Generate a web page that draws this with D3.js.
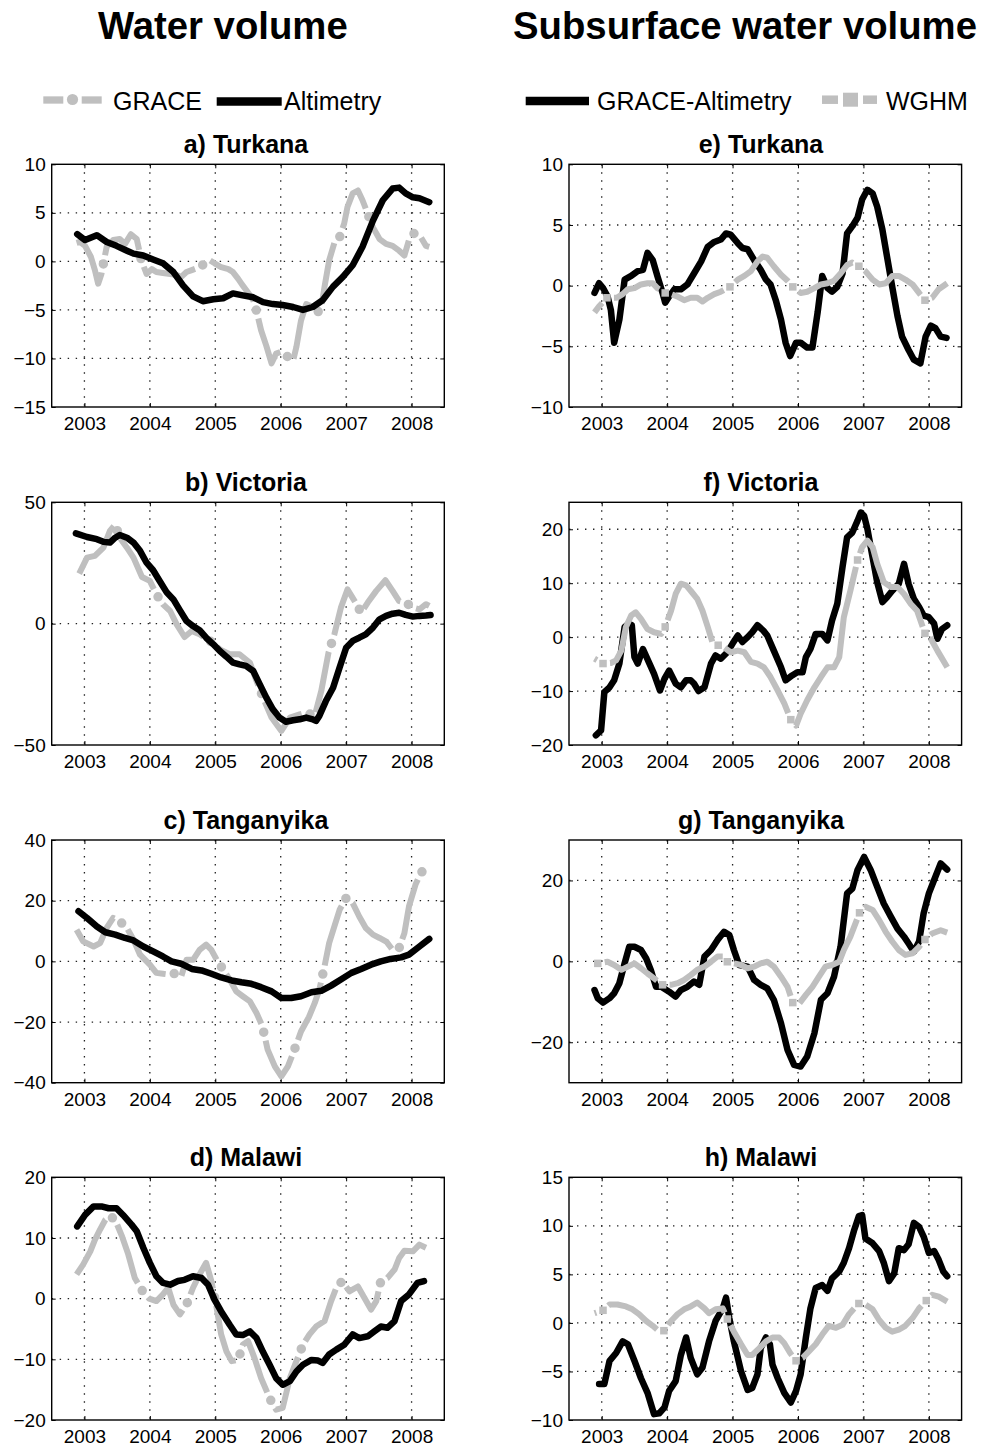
<!DOCTYPE html>
<html>
<head>
<meta charset="utf-8">
<script src="https://cdn.jsdelivr.net/npm/d3@7"></script>
<style>
  body { margin: 0; background: #fff; }
  svg text { font-family: "Liberation Sans", Arial, Helvetica, sans-serif; fill: #000; }
</style>
</head>
<body>
<svg id="fig" width="988" height="1451"></svg>
<script>
// ---------- data: [decimal year, km^3] ----------
const years = [2003, 2004, 2005, 2006, 2007, 2008];

// a) Turkana — total water volume
const turkanaGrace = [[2002.88,1.9],[2002.93,2.0],[2003.01,1.6],[2003.10,0.45],[2003.16,-0.9],[2003.21,-2.3],[2003.26,-1.3],[2003.34,1.5],[2003.44,2.2],[2003.54,2.3],[2003.62,1.8],[2003.71,2.8],[2003.80,2.3],[2003.87,0.1],[2003.95,-1.3],[2004.03,-0.8],[2004.10,-1.1],[2004.20,-1.2],[2004.31,-1.3],[2004.41,-1.4],[2004.48,-1.6],[2004.56,-1.1],[2004.64,-0.9],[2004.76,-0.6],[2004.84,-0.2],[2004.92,0.1],[2004.99,-0.2],[2005.09,-0.6],[2005.20,-0.8],[2005.27,-1.1],[2005.35,-1.8],[2005.41,-2.4],[2005.50,-3.2],[2005.58,-4.0],[2005.63,-5.1],[2005.70,-7.1],[2005.78,-8.7],[2005.86,-10.5],[2005.93,-9.5],[2006.01,-9.3],[2006.08,-9.7],[2006.19,-10.2],[2006.24,-8.8],[2006.31,-6.1],[2006.39,-4.4],[2006.49,-4.7],[2006.57,-5.2],[2006.62,-4.7],[2006.67,-2.6],[2006.74,0.1],[2006.82,1.9],[2006.90,2.5],[2006.97,3.9],[2007.02,5.6],[2007.10,7.0],[2007.18,7.3],[2007.25,6.3],[2007.33,4.9],[2007.41,3.5],[2007.51,2.3],[2007.61,1.8],[2007.71,1.6],[2007.81,1.1],[2007.89,0.6],[2007.96,2.2],[2008.04,2.9],[2008.14,2.5],[2008.22,1.6],[2008.27,1.5]];
const turkanaAlt = [[2002.89,2.8],[2003.01,2.2],[2003.19,2.7],[2003.34,2.0],[2003.49,1.6],[2003.65,1.1],[2003.75,0.8],[2003.90,0.6],[2004.05,0.2],[2004.20,-0.2],[2004.36,-1.1],[2004.51,-2.5],[2004.66,-3.6],[2004.81,-4.1],[2004.97,-3.9],[2005.12,-3.8],[2005.27,-3.3],[2005.42,-3.5],[2005.58,-3.7],[2005.73,-4.2],[2005.88,-4.4],[2006.03,-4.5],[2006.19,-4.7],[2006.34,-5.0],[2006.49,-4.7],[2006.64,-4.0],[2006.80,-2.6],[2006.95,-1.6],[2007.10,-0.4],[2007.25,1.5],[2007.41,4.2],[2007.56,6.3],[2007.71,7.5],[2007.81,7.6],[2007.91,7.0],[2008.02,6.6],[2008.12,6.5],[2008.27,6.1]];

// b) Victoria
const victoriaGrace = [[2002.92,20.6],[2003.04,27.2],[2003.16,27.9],[2003.29,31.3],[2003.39,38.2],[2003.47,40.9],[2003.54,35.4],[2003.65,31.3],[2003.75,27.2],[2003.88,19.2],[2004.00,17.6],[2004.10,12.1],[2004.20,8.0],[2004.31,5.2],[2004.41,-0.3],[2004.53,-5.5],[2004.64,-3.0],[2004.76,-4.4],[2004.92,-7.1],[2005.07,-10.6],[2005.22,-12.6],[2005.37,-12.6],[2005.53,-16.1],[2005.63,-23.6],[2005.73,-30.5],[2005.86,-38.7],[2006.01,-44.2],[2006.14,-38.7],[2006.29,-37.4],[2006.39,-36.7],[2006.52,-38.0],[2006.62,-27.7],[2006.73,-12.0],[2006.82,-4.4],[2006.92,6.6],[2007.02,14.1],[2007.13,9.3],[2007.23,4.5],[2007.33,8.7],[2007.46,13.5],[2007.60,17.9],[2007.71,13.5],[2007.81,9.3],[2007.91,8.7],[2008.02,6.6],[2008.12,5.9],[2008.22,8.0],[2008.27,7.3]];
const victoriaAlt = [[2002.87,37.2],[2003.04,35.7],[2003.19,34.8],[2003.29,33.7],[2003.39,33.4],[2003.47,35.4],[2003.54,36.5],[2003.65,35.4],[2003.75,33.4],[2003.85,30.0],[2003.95,25.1],[2004.05,22.0],[2004.15,17.6],[2004.26,12.8],[2004.36,10.0],[2004.46,5.5],[2004.56,1.1],[2004.66,-1.0],[2004.76,-2.7],[2004.86,-5.8],[2004.97,-8.5],[2005.07,-11.3],[2005.17,-13.6],[2005.27,-16.1],[2005.37,-16.8],[2005.47,-17.4],[2005.58,-19.5],[2005.68,-25.0],[2005.78,-30.5],[2005.88,-35.3],[2005.98,-38.7],[2006.08,-40.4],[2006.19,-39.8],[2006.29,-39.4],[2006.39,-38.7],[2006.49,-39.4],[2006.54,-40.1],[2006.59,-38.0],[2006.69,-31.9],[2006.80,-26.4],[2006.90,-18.1],[2007.00,-9.9],[2007.10,-7.1],[2007.20,-5.8],[2007.30,-4.4],[2007.41,-1.6],[2007.51,1.8],[2007.61,3.2],[2007.71,4.1],[2007.81,4.5],[2007.91,3.6],[2008.02,2.9],[2008.12,3.2],[2008.22,3.4],[2008.29,3.6]];

// c) Tanganyika
const tanganyikaGrace = [[2002.88,10.4],[2002.98,6.6],[2003.14,4.9],[2003.24,6.0],[2003.34,11.0],[2003.44,14.3],[2003.54,13.2],[2003.65,11.0],[2003.75,7.1],[2003.85,2.2],[2004.00,-1.1],[2004.10,-3.8],[2004.20,-4.1],[2004.31,-4.4],[2004.41,-3.8],[2004.48,-4.9],[2004.56,0.5],[2004.66,0.5],[2004.76,3.8],[2004.86,5.5],[2004.94,3.8],[2005.03,0.2],[2005.12,-2.7],[2005.22,-6.0],[2005.32,-9.9],[2005.42,-11.5],[2005.53,-13.2],[2005.63,-17.0],[2005.72,-21.4],[2005.80,-29.1],[2005.91,-34.6],[2006.01,-37.9],[2006.11,-34.6],[2006.21,-29.1],[2006.31,-23.1],[2006.43,-18.4],[2006.52,-13.7],[2006.59,-9.3],[2006.67,-1.6],[2006.74,6.0],[2006.82,11.5],[2006.90,17.0],[2007.00,20.9],[2007.10,19.2],[2007.20,14.8],[2007.30,11.0],[2007.41,8.8],[2007.51,7.7],[2007.62,6.4],[2007.71,3.8],[2007.81,4.4],[2007.89,9.3],[2007.96,18.1],[2008.06,25.3],[2008.14,29.1],[2008.24,31.3]];
const tanganyikaAlt = [[2002.91,16.5],[2003.04,14.3],[2003.19,11.5],[2003.32,9.6],[2003.47,8.8],[2003.62,7.7],[2003.75,6.9],[2003.90,4.9],[2004.05,3.3],[2004.20,1.6],[2004.33,0.0],[2004.48,-0.8],[2004.64,-2.5],[2004.79,-3.0],[2004.94,-4.1],[2005.09,-5.3],[2005.25,-6.3],[2005.40,-6.9],[2005.55,-7.4],[2005.70,-8.5],[2005.86,-9.9],[2006.01,-12.1],[2006.16,-12.1],[2006.31,-11.5],[2006.47,-10.2],[2006.62,-9.7],[2006.77,-8.0],[2006.92,-6.0],[2007.08,-3.8],[2007.23,-2.5],[2007.38,-1.1],[2007.53,0.0],[2007.68,0.8],[2007.84,1.3],[2007.96,2.2],[2008.12,4.9],[2008.27,7.4]];

// d) Malawi
const malawiGrace = [[2002.88,4.0],[2002.98,5.6],[2003.09,7.8],[2003.16,9.7],[2003.24,11.4],[2003.32,13.0],[2003.39,13.6],[2003.47,13.0],[2003.57,10.4],[2003.67,7.3],[2003.77,3.4],[2003.89,1.2],[2003.99,0.0],[2004.10,-0.4],[2004.20,0.7],[2004.28,1.8],[2004.36,-1.0],[2004.46,-2.6],[2004.56,-1.0],[2004.66,1.8],[2004.76,4.0],[2004.86,5.9],[2004.94,2.9],[2005.02,-1.5],[2005.09,-5.9],[2005.17,-8.7],[2005.25,-10.3],[2005.35,-10.1],[2005.42,-7.6],[2005.50,-7.0],[2005.60,-9.8],[2005.70,-13.1],[2005.84,-16.6],[2005.93,-18.3],[2006.03,-18.0],[2006.14,-13.1],[2006.24,-10.3],[2006.34,-7.6],[2006.44,-5.9],[2006.54,-4.6],[2006.67,-3.7],[2006.77,-0.4],[2006.85,1.8],[2006.94,2.9],[2007.05,1.2],[2007.18,2.0],[2007.28,0.1],[2007.38,-1.8],[2007.46,-0.4],[2007.53,2.9],[2007.63,3.4],[2007.74,4.8],[2007.81,6.7],[2007.89,7.9],[2008.02,7.8],[2008.12,8.9],[2008.22,8.4]];
const malawiAlt = [[2002.89,11.9],[2003.01,13.8],[2003.14,15.2],[2003.26,15.2],[2003.37,14.9],[2003.49,14.9],[2003.59,13.8],[2003.72,12.2],[2003.80,11.1],[2003.90,8.4],[2004.00,5.9],[2004.10,3.7],[2004.20,2.6],[2004.31,2.3],[2004.43,2.9],[2004.53,3.1],[2004.66,3.7],[2004.79,3.4],[2004.89,2.3],[2004.99,-0.2],[2005.09,-2.1],[2005.22,-4.3],[2005.32,-5.9],[2005.42,-6.0],[2005.53,-5.4],[2005.63,-6.5],[2005.73,-8.8],[2005.83,-10.9],[2005.93,-13.1],[2006.03,-14.2],[2006.14,-13.6],[2006.24,-12.0],[2006.34,-10.9],[2006.47,-10.1],[2006.57,-10.2],[2006.64,-10.6],[2006.74,-9.2],[2006.85,-8.4],[2006.97,-7.6],[2007.10,-5.9],[2007.20,-6.5],[2007.33,-6.2],[2007.43,-5.4],[2007.53,-4.6],[2007.63,-4.8],[2007.74,-3.7],[2007.84,-0.4],[2007.96,0.7],[2008.09,2.6],[2008.19,2.9]];

// e) Turkana — subsurface water volume
const turkanaSub = [[2002.89,-0.6],[2002.96,0.2],[2003.02,-0.2],[2003.09,-0.9],[2003.14,-2.0],[2003.19,-4.7],[2003.27,-2.8],[2003.35,0.5],[2003.45,0.8],[2003.55,1.2],[2003.63,1.3],[2003.70,2.7],[2003.78,2.1],[2003.85,0.8],[2003.93,-0.6],[2003.97,-1.4],[2004.03,-0.9],[2004.11,-0.3],[2004.21,-0.3],[2004.31,0.1],[2004.41,1.0],[2004.52,2.0],[2004.62,3.2],[2004.72,3.6],[2004.82,3.8],[2004.90,4.3],[2004.97,4.2],[2005.08,3.5],[2005.15,3.1],[2005.23,3.0],[2005.33,2.1],[2005.43,1.3],[2005.51,0.5],[2005.58,0.1],[2005.66,-1.2],[2005.74,-2.8],[2005.81,-4.7],[2005.88,-5.8],[2005.97,-4.7],[2006.04,-4.7],[2006.14,-5.1],[2006.22,-5.1],[2006.30,-2.2],[2006.37,0.8],[2006.45,-0.2],[2006.52,-0.5],[2006.60,-0.1],[2006.68,1.0],[2006.75,4.3],[2006.83,4.9],[2006.91,5.6],[2006.98,7.1],[2007.06,7.9],[2007.14,7.6],[2007.21,6.5],[2007.29,4.6],[2007.36,2.4],[2007.44,-0.1],[2007.52,-2.5],[2007.59,-4.2],[2007.69,-5.3],[2007.77,-6.1],[2007.87,-6.4],[2007.95,-4.2],[2008.03,-3.3],[2008.10,-3.5],[2008.18,-4.2],[2008.27,-4.3]];
const turkanaWghm = [[2002.89,-2.2],[2002.96,-1.7],[2003.08,-1.0],[2003.23,-1.0],[2003.32,-0.7],[2003.40,-0.3],[2003.50,-0.2],[2003.60,0.1],[2003.70,0.2],[2003.78,0.2],[2003.85,-0.2],[2003.97,-0.6],[2004.06,-0.7],[2004.16,-0.9],[2004.26,-1.2],[2004.36,-1.0],[2004.46,-1.0],[2004.54,-1.3],[2004.62,-1.0],[2004.72,-0.7],[2004.82,-0.5],[2004.96,-0.1],[2005.08,0.5],[2005.18,0.8],[2005.28,1.2],[2005.38,2.0],[2005.46,2.4],[2005.53,2.3],[2005.63,1.6],[2005.74,0.9],[2005.84,0.4],[2005.92,-0.1],[2006.04,-0.6],[2006.14,-0.5],[2006.25,-0.2],[2006.35,0.1],[2006.45,0.2],[2006.55,0.4],[2006.65,1.0],[2006.75,1.7],[2006.83,1.9],[2006.93,1.6],[2007.03,1.2],[2007.14,0.5],[2007.24,0.1],[2007.34,0.2],[2007.44,0.8],[2007.54,0.8],[2007.64,0.5],[2007.75,0.1],[2007.85,-0.6],[2007.94,-1.2],[2008.05,-1.0],[2008.15,-0.3],[2008.28,0.2]];
const turkanaWghmMarks = [2003.08, 2003.97, 2004.96, 2005.92, 2006.93, 2007.94];

// f) Victoria
const victoriaSub = [[2002.91,-18.2],[2002.99,-17.3],[2003.04,-10.2],[2003.12,-9.3],[2003.19,-8.0],[2003.27,-4.9],[2003.35,1.9],[2003.41,2.5],[2003.46,2.2],[2003.50,-3.7],[2003.55,-4.9],[2003.63,-2.2],[2003.73,-4.9],[2003.80,-6.8],[2003.89,-9.9],[2003.96,-7.7],[2004.03,-6.2],[2004.13,-8.6],[2004.21,-9.3],[2004.29,-8.0],[2004.36,-8.0],[2004.41,-8.6],[2004.48,-10.0],[2004.57,-9.3],[2004.67,-4.9],[2004.74,-3.4],[2004.82,-4.0],[2004.92,-2.8],[2005.00,-1.2],[2005.08,0.3],[2005.15,-0.9],[2005.23,0.0],[2005.30,0.9],[2005.38,2.2],[2005.47,1.2],[2005.53,0.3],[2005.63,-2.5],[2005.74,-5.6],[2005.81,-8.0],[2005.91,-7.1],[2005.99,-6.5],[2006.07,-6.5],[2006.12,-3.7],[2006.19,-2.2],[2006.27,0.6],[2006.37,0.6],[2006.45,-0.6],[2006.52,3.1],[2006.60,6.2],[2006.68,13.0],[2006.75,18.5],[2006.83,19.4],[2006.91,21.6],[2006.96,23.1],[2007.01,22.5],[2007.06,20.1],[2007.14,14.8],[2007.21,10.2],[2007.29,6.5],[2007.36,7.4],[2007.44,8.6],[2007.54,9.9],[2007.62,13.6],[2007.69,9.9],[2007.77,7.1],[2007.85,5.6],[2007.92,4.0],[2008.00,3.7],[2008.08,2.5],[2008.13,-0.3],[2008.20,1.5],[2008.28,2.2]];
const victoriaWghm = [[2002.89,-4.0],[2003.02,-4.9],[2003.14,-4.8],[2003.22,-4.3],[2003.30,-2.5],[2003.37,1.9],[2003.45,4.0],[2003.52,4.6],[2003.60,3.4],[2003.70,1.5],[2003.80,0.9],[2003.91,0.6],[2003.97,1.9],[2004.06,4.9],[2004.13,8.0],[2004.21,9.9],[2004.29,9.6],[2004.36,8.6],[2004.46,7.1],[2004.54,4.9],[2004.62,1.9],[2004.69,-0.9],[2004.78,-1.5],[2004.87,-1.9],[2004.97,-2.8],[2005.08,-2.5],[2005.18,-2.8],[2005.28,-4.6],[2005.38,-4.9],[2005.48,-5.6],[2005.58,-7.4],[2005.69,-9.9],[2005.79,-12.3],[2005.89,-15.3],[2005.97,-16.4],[2006.04,-14.2],[2006.14,-11.7],[2006.25,-9.3],[2006.35,-7.4],[2006.45,-5.6],[2006.55,-5.6],[2006.63,-3.7],[2006.70,3.7],[2006.80,8.6],[2006.91,14.3],[2006.98,16.7],[2007.06,17.9],[2007.14,16.7],[2007.21,13.6],[2007.31,10.2],[2007.42,9.3],[2007.52,9.3],[2007.62,8.0],[2007.72,6.2],[2007.82,4.9],[2007.94,0.7],[2008.03,-0.3],[2008.13,-2.5],[2008.28,-5.6]];
const victoriaWghmMarks = [2003.02, 2003.97, 2004.78, 2005.89, 2006.91, 2007.94];

// g) Tanganyika
const tanganyikaSub = [[2002.89,-7.1],[2002.94,-9.1],[2003.02,-10.2],[2003.12,-9.1],[2003.19,-7.9],[2003.27,-5.4],[2003.35,-0.5],[2003.42,3.6],[2003.50,3.6],[2003.60,2.8],[2003.68,0.7],[2003.75,-2.1],[2003.83,-6.3],[2003.91,-6.3],[2004.03,-7.5],[2004.13,-8.7],[2004.21,-7.1],[2004.31,-6.3],[2004.41,-5.0],[2004.49,-5.8],[2004.57,1.2],[2004.67,2.8],[2004.77,5.3],[2004.87,7.3],[2004.95,6.5],[2005.02,2.8],[2005.10,-0.9],[2005.23,-1.3],[2005.33,-4.6],[2005.43,-5.8],[2005.53,-6.7],[2005.63,-9.5],[2005.74,-15.3],[2005.84,-21.9],[2005.94,-25.6],[2006.04,-26.0],[2006.14,-23.5],[2006.25,-17.8],[2006.35,-9.5],[2006.45,-7.9],[2006.55,-3.8],[2006.65,3.6],[2006.75,16.8],[2006.83,18.0],[2006.91,22.6],[2007.01,25.8],[2007.11,22.6],[2007.21,18.4],[2007.31,14.3],[2007.42,11.0],[2007.52,8.1],[2007.62,6.1],[2007.69,4.4],[2007.77,2.4],[2007.85,4.9],[2007.92,11.9],[2008.00,16.8],[2008.08,20.1],[2008.18,24.2],[2008.28,22.7]];
const tanganyikaWghm = [[2002.94,-0.5],[2003.09,-0.1],[2003.19,-0.9],[2003.30,-2.1],[2003.40,-1.3],[2003.50,-0.5],[2003.60,-1.7],[2003.70,-3.0],[2003.80,-4.2],[2003.93,-5.8],[2004.06,-5.8],[2004.16,-5.4],[2004.26,-4.6],[2004.36,-3.4],[2004.46,-2.1],[2004.57,-1.3],[2004.67,-0.1],[2004.77,1.2],[2004.85,1.2],[2004.92,-0.1],[2005.02,-0.5],[2005.13,-0.9],[2005.23,-1.7],[2005.33,-1.3],[2005.43,-0.5],[2005.53,-0.1],[2005.63,-1.3],[2005.74,-3.8],[2005.84,-6.3],[2005.92,-10.2],[2006.02,-10.4],[2006.12,-8.3],[2006.22,-6.3],[2006.32,-3.8],[2006.42,-1.3],[2006.52,-0.9],[2006.63,-0.1],[2006.70,2.8],[2006.80,6.1],[2006.94,12.0],[2007.03,13.5],[2007.14,12.7],[2007.24,10.2],[2007.34,7.3],[2007.44,4.9],[2007.54,2.8],[2007.64,1.6],[2007.75,2.0],[2007.85,3.6],[2007.94,5.4],[2008.05,6.9],[2008.18,7.7],[2008.28,7.1]];
const tanganyikaWghmMarks = [2002.94, 2003.93, 2004.92, 2005.92, 2006.94, 2007.94];

// h) Malawi
const malawiSub = [[2002.96,-6.3],[2003.04,-6.3],[2003.12,-3.9],[2003.22,-3.1],[2003.32,-1.9],[2003.40,-2.2],[2003.50,-3.9],[2003.60,-5.7],[2003.70,-7.2],[2003.80,-9.4],[2003.88,-9.3],[2003.96,-8.7],[2004.03,-7.0],[2004.13,-6.0],[2004.21,-3.3],[2004.29,-1.5],[2004.36,-3.6],[2004.46,-5.3],[2004.54,-4.6],[2004.64,-1.9],[2004.74,0.2],[2004.85,1.5],[2004.90,2.6],[2004.95,0.5],[2005.02,-1.9],[2005.13,-5.0],[2005.23,-6.9],[2005.30,-6.7],[2005.38,-5.3],[2005.43,-2.6],[2005.51,-1.5],[2005.57,-2.2],[2005.61,-4.3],[2005.69,-5.7],[2005.79,-7.2],[2005.89,-8.2],[2005.97,-7.0],[2006.04,-5.3],[2006.12,-1.5],[2006.19,1.5],[2006.27,3.6],[2006.37,3.9],[2006.45,3.3],[2006.52,4.6],[2006.63,5.3],[2006.70,6.2],[2006.78,7.7],[2006.86,9.6],[2006.93,11.0],[2006.98,11.1],[2007.03,8.7],[2007.14,8.2],[2007.24,7.4],[2007.31,6.2],[2007.39,4.3],[2007.47,5.1],[2007.54,7.7],[2007.62,7.5],[2007.69,8.1],[2007.77,10.3],[2007.85,9.9],[2007.92,8.9],[2008.00,7.2],[2008.08,7.4],[2008.15,6.5],[2008.22,5.3],[2008.28,4.8]];
const malawiWghm = [[2002.89,1.0],[2003.02,1.3],[2003.12,1.9],[2003.24,1.9],[2003.37,1.7],[2003.47,1.4],[2003.57,0.9],[2003.68,0.2],[2003.78,-0.3],[2003.85,-0.7],[2003.95,-0.8],[2004.06,0.2],[2004.16,0.9],[2004.26,1.4],[2004.36,1.7],[2004.46,2.1],[2004.57,1.5],[2004.64,1.0],[2004.74,1.4],[2004.85,1.5],[2004.92,0.4],[2005.02,-0.9],[2005.13,-2.2],[2005.23,-3.3],[2005.30,-3.3],[2005.41,-2.6],[2005.51,-1.9],[2005.61,-1.5],[2005.71,-1.5],[2005.79,-2.1],[2005.88,-3.1],[2005.97,-3.9],[2006.07,-3.6],[2006.17,-2.9],[2006.27,-2.2],[2006.37,-1.2],[2006.47,-0.3],[2006.58,-0.5],[2006.68,-0.2],[2006.78,0.9],[2006.86,1.5],[2006.93,2.0],[2007.03,1.9],[2007.14,1.4],[2007.24,0.3],[2007.34,-0.5],[2007.44,-0.9],[2007.54,-0.7],[2007.64,-0.3],[2007.75,0.5],[2007.85,1.5],[2007.96,2.3],[2008.05,2.9],[2008.15,2.7],[2008.28,2.2]];
const malawiWghmMarks = [2003.02, 2003.95, 2004.92, 2005.97, 2006.93, 2007.96];

// y ticks per panel
const ticksA = [-15, -10, -5, 0, 5, 10];
const ticksB = [-50, 0, 50];
const ticksC = [-40, -20, 0, 20, 40];
const ticksD = [-20, -10, 0, 10, 20];
const ticksE = [-10, -5, 0, 5, 10];
const ticksF = [-20, -10, 0, 10, 20];
const ticksG = [-20, 0, 20];
const ticksH = [-10, -5, 0, 5, 10, 15];

const columnTitles = ["Water volume", "Subsurface water volume"];
const panelTitles = ["a) Turkana", "b) Victoria", "c) Tanganyika", "d) Malawi",
                     "e) Turkana", "f) Victoria", "g) Tanganyika", "h) Malawi"];

// ---------- layout ----------
const svg = d3.select("#fig");
const colX = [51.7, 569];
const plotW = 392.6;
const rowY = [164.3, 502.3, 840, 1177.3];
const plotH = 242.7;
const titleCX = [246, 761];
const GREY = "#bfbfbf";

const panels = [
  { col: 0, row: 0, domain: [-15, 10], ticks: ticksA, grace: turkanaGrace, black: turkanaAlt },
  { col: 0, row: 1, domain: [-50, 50], ticks: ticksB, grace: victoriaGrace, black: victoriaAlt },
  { col: 0, row: 2, domain: [-40, 40], ticks: ticksC, grace: tanganyikaGrace, black: tanganyikaAlt },
  { col: 0, row: 3, domain: [-20, 20], ticks: ticksD, grace: malawiGrace, black: malawiAlt },
  { col: 1, row: 0, domain: [-10, 10], ticks: ticksE, black: turkanaSub, wghm: turkanaWghm, marks: turkanaWghmMarks },
  { col: 1, row: 1, domain: [-20, 25], ticks: ticksF, black: victoriaSub, wghm: victoriaWghm, marks: victoriaWghmMarks },
  { col: 1, row: 2, domain: [-30, 30], ticks: ticksG, black: tanganyikaSub, wghm: tanganyikaWghm, marks: tanganyikaWghmMarks },
  { col: 1, row: 3, domain: [-10, 15], ticks: ticksH, black: malawiSub, wghm: malawiWghm, marks: malawiWghmMarks }
];

// column headings
const headX = [98, 513];
columnTitles.forEach((t, i) => {
  svg.append("text")
    .attr("x", headX[i]).attr("y", 39)
    .attr("font-size", 38.3).attr("font-weight", "bold")
    .text(t);
});

// legends
(function legends() {
  const lg = svg.append("g").attr("class", "legend");
  // GRACE (grey dash, circle, dash)
  lg.append("line").attr("x1", 43.3).attr("x2", 63.3).attr("y1", 100).attr("y2", 100)
    .attr("stroke", GREY).attr("stroke-width", 7.3);
  lg.append("circle").attr("cx", 72.5).attr("cy", 99.5).attr("r", 5.6).attr("fill", GREY);
  lg.append("line").attr("x1", 81.7).attr("x2", 101.7).attr("y1", 100).attr("y2", 100)
    .attr("stroke", GREY).attr("stroke-width", 7.3);
  lg.append("text").attr("x", 113).attr("y", 109.5).attr("font-size", 25).text("GRACE");
  // Altimetry (black)
  lg.append("line").attr("x1", 216.7).attr("x2", 281.7).attr("y1", 101.5).attr("y2", 101.5)
    .attr("stroke", "#000").attr("stroke-width", 8.5);
  lg.append("text").attr("x", 284).attr("y", 109.5).attr("font-size", 25).text("Altimetry");
  // GRACE-Altimetry (black)
  lg.append("line").attr("x1", 525.7).attr("x2", 589).attr("y1", 101).attr("y2", 101)
    .attr("stroke", "#000").attr("stroke-width", 8.5);
  lg.append("text").attr("x", 597).attr("y", 109.5).attr("font-size", 25).text("GRACE-Altimetry");
  // WGHM (grey dash, square, dash)
  lg.append("line").attr("x1", 822).attr("x2", 838).attr("y1", 99.7).attr("y2", 99.7)
    .attr("stroke", GREY).attr("stroke-width", 8.5);
  lg.append("rect").attr("x", 843).attr("y", 92.7).attr("width", 15).attr("height", 14).attr("fill", GREY);
  lg.append("line").attr("x1", 863).attr("x2", 877).attr("y1", 99.7).attr("y2", 99.7)
    .attr("stroke", GREY).attr("stroke-width", 8.5);
  lg.append("text").attr("x", 886).attr("y", 109.5).attr("font-size", 25).text("WGHM");
})();

// GRACE: thick dashes separated by round dots (constant arc-length pattern)
function drawGrace(g, data, line) {
  const D = 62, G = 4, C = 9.5, P = D + 2 * G + C;
  const d = line(data);
  g.append("path").attr("d", d).attr("fill", "none").attr("stroke", GREY)
    .attr("stroke-width", 6).attr("stroke-linejoin", "round").attr("stroke-linecap", "butt")
    .attr("stroke-dasharray", `${D} ${P - D}`);
  g.append("path").attr("d", d).attr("fill", "none").attr("stroke", GREY)
    .attr("stroke-width", C).attr("stroke-linecap", "round")
    .attr("stroke-dasharray", `0 ${P}`).attr("stroke-dashoffset", -(D + G + C / 2));
}

// WGHM: solid grey line, square markers with a small gap on either side
function drawWghm(g, data, marks, line, x, y) {
  const GAP = 7;
  const idx = marks.map(m => data.findIndex(p => Math.abs(p[0] - m) < 1e-6)).filter(i => i >= 0);
  const cuts = [0, ...idx, data.length - 1];
  for (let k = 0; k < cuts.length - 1; k++) {
    const seg = data.slice(cuts[k], cuts[k + 1] + 1);
    if (seg.length < 2) continue;
    const p = g.append("path").attr("d", line(seg)).attr("fill", "none").attr("stroke", GREY)
      .attr("stroke-width", 6).attr("stroke-linejoin", "round");
    const L = p.node().getTotalLength();
    const gs = idx.includes(cuts[k]) ? GAP : 0;
    const ge = idx.includes(cuts[k + 1]) ? GAP : 0;
    p.attr("stroke-dasharray", `0 ${gs} ${Math.max(L - gs - ge, 0)} ${L + 20}`);
  }
  const s = 7.5;
  g.selectAll("rect.mk").data(idx.map(i => data[i])).join("rect").attr("class", "mk")
    .attr("x", p => x(p[0]) - s / 2).attr("y", p => y(p[1]) - s / 2)
    .attr("width", s).attr("height", s).attr("fill", GREY);
}

panels.forEach((pn, i) => {
  const x0 = colX[pn.col], y0 = rowY[pn.row];
  const x = d3.scaleLinear().domain([2002.5, 2008.5]).range([x0, x0 + plotW]);
  const y = d3.scaleLinear().domain(pn.domain).range([y0 + plotH, y0]);
  const g = svg.append("g").attr("class", "panel");

  // dotted grid
  const grid = g.append("g").attr("stroke", "#222").attr("stroke-width", 1.3)
    .attr("stroke-dasharray", "1.4 6.6");
  grid.selectAll("line.v").data(years).join("line").attr("class", "v")
    .attr("x1", d => x(d)).attr("x2", d => x(d)).attr("y1", y0).attr("y2", y0 + plotH);
  grid.selectAll("line.h").data(pn.ticks.filter(t => t > pn.domain[0] && t < pn.domain[1]))
    .join("line").attr("class", "h")
    .attr("x1", x0).attr("x2", x0 + plotW).attr("y1", d => y(d)).attr("y2", d => y(d));

  // axes
  const styleAxis = a => {
    a.select(".domain").remove();
    a.selectAll(".tick line").attr("stroke", "#000").attr("stroke-width", 1);
    a.selectAll("text").attr("font-size", 19).attr("font-family", "Liberation Sans, Arial, sans-serif").attr("fill", "#000");
  };
  g.append("g").attr("transform", `translate(${x0},0)`)
    .call(d3.axisLeft(y).tickValues(pn.ticks).tickSize(-4).tickPadding(6)).call(styleAxis);
  g.append("g").attr("transform", `translate(${x0 + plotW},0)`)
    .call(d3.axisRight(y).tickValues(pn.ticks).tickSize(-4).tickFormat("")).call(styleAxis);
  g.append("g").attr("transform", `translate(0,${y0 + plotH})`)
    .call(d3.axisBottom(x).tickValues(years).tickSize(-4).tickPadding(10).tickFormat(d3.format("d"))).call(styleAxis);
  g.append("g").attr("transform", `translate(0,${y0})`)
    .call(d3.axisTop(x).tickValues(years).tickSize(-4).tickFormat("")).call(styleAxis);

  // frame
  g.append("rect").attr("x", x0).attr("y", y0).attr("width", plotW).attr("height", plotH)
    .attr("fill", "none").attr("stroke", "#000").attr("stroke-width", 1.4);

  // series
  const line = d3.line().x(d => x(d[0])).y(d => y(d[1]));
  if (pn.grace) {
    drawGrace(g, pn.grace, line);
    g.append("path").attr("d", line(pn.black)).attr("fill", "none").attr("stroke", "#000")
      .attr("stroke-width", 6.5).attr("stroke-linejoin", "round").attr("stroke-linecap", "round");
  } else {
    g.append("path").attr("d", line(pn.black)).attr("fill", "none").attr("stroke", "#000")
      .attr("stroke-width", 6.5).attr("stroke-linejoin", "round").attr("stroke-linecap", "round");
    drawWghm(g, pn.wghm, pn.marks, line, x, y);
  }

  // panel title
  g.append("text").attr("x", titleCX[pn.col]).attr("y", y0 - 11)
    .attr("text-anchor", "middle").attr("font-size", 25).attr("font-weight", "bold")
    .text(panelTitles[i]);
});
</script>
</body>
</html>
